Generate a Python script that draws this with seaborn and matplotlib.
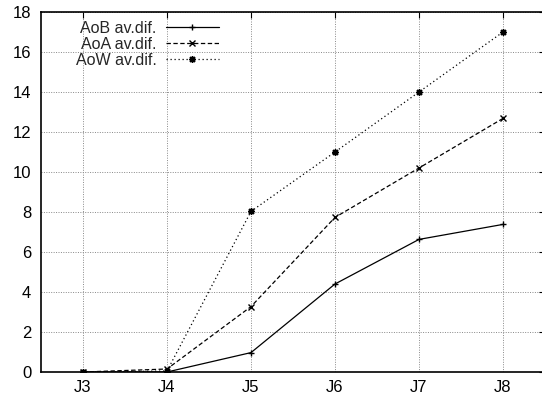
import seaborn as sns
import matplotlib.pyplot as plt

# data
etapas = ['J3', 'J4', 'J5', 'J6', 'J7', 'J8']
aob = [0.0, 0.0, 0.97, 4.4, 6.63, 7.38]
aoa = [0.0, 0.15, 3.27, 7.73, 10.2, 12.68]
aow = [0.0, 0.05, 8.03, 11.0, 14.0, 17.0]
series = ['AoB av.dif.', 'AoA av.dif.', 'AoW av.dif.']

sns.set_style('white')
plt.rcParams['font.family'] = ['Liberation Sans', 'DejaVu Sans']

fig = plt.figure(figsize=(5.42, 3.96), dpi=100)
ax = fig.add_axes([41 / 542, 24 / 396, 504 / 542, 360 / 396])

estilos = [('-', '+'), ((0, (3.5, 2)), 'x'), ((0, (1, 2.2)), (8, 2, 0))]
for vals, nome, (ls, mk) in zip([aob, aoa, aow], series, estilos):
    sns.lineplot(x=etapas, y=vals, label=nome, color='black', linestyle=ls,
                 marker=mk, markersize=5, markeredgewidth=1,
                 markeredgecolor='black', linewidth=0.9, ax=ax)

ax.set_xlim(-0.5, 5.5)
ax.set_ylim(0, 18)
ax.set_yticks(range(0, 19, 2))
ax.grid(True, color='#888888', linestyle=(0, (1, 1.5)), linewidth=0.7)
ax.tick_params(direction='in', length=4, width=0.8, top=True, right=True,
               labelsize=12, colors='black', pad=7)
ax.tick_params(axis='x', pad=6)
for s in ax.spines.values():
    s.set_color('black')
    s.set_linewidth(1.2)

h, l = ax.get_legend_handles_labels()
ax.legend(h, l, loc='upper left', bbox_to_anchor=(0.04, 1.015), frameon=False,
          markerfirst=False, fontsize=11.5, handlelength=3.3,
          labelspacing=0.05, handletextpad=0.6)

fig.savefig('out.png', dpi=100)
